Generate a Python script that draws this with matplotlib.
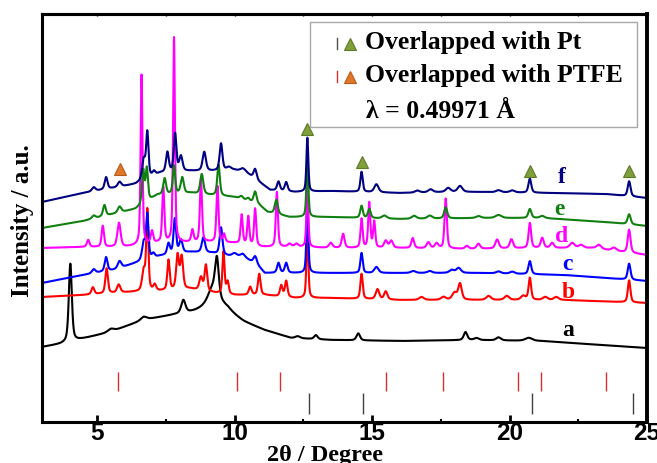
import numpy as np
import matplotlib
matplotlib.use("Agg")
import matplotlib.pyplot as plt
from matplotlib.lines import Line2D
from matplotlib.patches import Rectangle

# ---- data -------------------------------------------------------------
# background anchors (2theta, intensity) for each pattern, offsets included
bg_a = [(3.0, 75), (3.67, 78), (4.29, 82), (5.49, 90), (6.69, 102), (7.79, 107),
        (8.41, 109), (9.03, 110), (9.76, 109), (10.34, 100), (11.07, 92),
        (12.05, 84), (13.51, 82), (16.06, 81), (18.61, 82), (21.17, 81),
        (23.35, 77), (25.0, 74)]
bg_b = [(3.0, 125), (4.5, 127), (5.6, 129), (6.3, 130), (7.3, 131), (8.4, 133),
        (9.3, 129), (10.0, 127), (11.1, 127), (12.2, 124), (13.5, 124),
        (16.0, 122), (19.0, 122), (22.0, 122), (25.0, 119)]
bg_c = [(3.0, 139), (4.5, 147), (5.6, 152), (6.3, 158), (7.3, 166), (8.4, 170),
        (9.2, 169), (9.8, 166), (10.3, 165), (10.8, 158), (11.1, 149),
        (12.2, 149), (13.5, 149), (16.5, 149), (19.0, 149), (22.0, 147), (25.0, 141)]
bg_d = [(3.0, 174), (4.5, 175), (6.0, 175), (7.2, 179), (9.0, 180), (10.0, 179),
        (11.0, 175), (12.2, 175), (13.5, 174), (16.0, 174), (18.5, 173),
        (21.0, 174), (23.0, 174), (25.0, 167)]
bg_e = [(3.0, 194), (4.5, 201), (5.6, 208), (6.4, 213), (7.2, 227), (8.4, 229),
        (9.1, 227), (10.0, 225), (10.9, 217), (11.2, 210), (12.0, 205),
        (13.5, 205), (16.0, 203), (19.0, 204), (21.2, 204), (23.5, 200), (25.0, 196)]
bg_f = [(3.0, 220), (4.5, 229), (5.6, 234), (6.4, 238), (7.3, 249), (8.4, 251),
        (9.2, 251), (10.0, 252), (10.4, 250), (10.95, 239), (11.3, 232),
        (12.2, 230), (13.5, 231), (16.0, 229), (17.8, 230), (19.0, 230),
        (21.5, 229), (23.5, 228), (25.0, 224)]

# reflections (2theta, height, FWHM)
pk_a = [(4.03, 78, 0.13), (5.5, 3, 0.25), (6.7, 3, 0.25), (8.14, 13, 0.18),
        (9.2, 12, 0.35), (9.36, 38, 0.16), (9.3, 12, 0.9), (12.3, 2, 0.2),
        (12.96, 4, 0.15), (14.5, 7, 0.15), (18.4, 8, 0.15), (18.8, 2, 0.2),
        (19.6, 3, 0.2), (20.7, 3, 0.3)]
pk_b = [(4.85, 7, 0.12), (5.35, 25, 0.11), (5.79, 8, 0.14), (6.7, 20, 0.14),
        (6.83, 80, 0.09), (7.1, 6, 0.12), (7.6, 30, 0.1), (7.93, 34, 0.12),
        (8.08, 32, 0.12), (8.78, 13, 0.14), (8.96, 26, 0.11), (9.6, 42, 0.09),
        (9.75, 12, 0.1), (10.57, 8, 0.12), (10.9, 21, 0.11), (11.7, 11, 0.11),
        (11.88, 16, 0.11), (12.65, 70, 0.08), (14.62, 25, 0.1), (15.2, 10, 0.15),
        (15.5, 8, 0.14), (16.8, 3, 0.2), (17.6, 3, 0.2), (18.0, 7, 0.2),
        (18.2, 16, 0.15), (19.24, 4, 0.2), (19.9, 4, 0.2), (20.5, 4, 0.2),
        (20.74, 22, 0.11), (21.3, 3, 0.2), (21.7, 3, 0.2), (24.35, 22, 0.11)]
pk_c = [(4.88, 4, 0.15), (5.33, 14, 0.12), (5.82, 7, 0.15), (6.7, 18, 0.14),
        (6.83, 44, 0.1), (7.05, 4, 0.12), (7.6, 11, 0.12), (7.83, 35, 0.11),
        (8.05, 13, 0.14), (8.87, 15, 0.14), (9.51, 27, 0.12), (10.0, 3, 0.2),
        (10.3, 3, 0.2), (10.75, 7, 0.14), (11.6, 10, 0.12), (11.88, 10, 0.12),
        (12.65, 72, 0.08), (14.62, 20, 0.1), (15.16, 6, 0.18), (16.5, 2, 0.2),
        (17.1, 2, 0.2), (17.9, 3, 0.2), (18.15, 5, 0.2), (19.6, 2, 0.2),
        (20.1, 2, 0.2), (20.74, 13, 0.12), (24.35, 16, 0.12)]
pk_d = [(4.68, 7, 0.11), (5.21, 21, 0.1), (5.8, 24, 0.14), (6.62, 170, 0.08),
        (7.0, 12, 0.1), (7.41, 55, 0.09), (7.8, 205, 0.08), (8.47, 12, 0.1),
        (8.78, 63, 0.09), (9.38, 56, 0.09), (9.62, 8, 0.1), (10.26, 29, 0.09),
        (10.5, 28, 0.09), (10.75, 37, 0.09), (11.54, 55, 0.09), (12.0, 3, 0.15),
        (12.25, 3, 0.15), (12.65, 62, 0.08), (13.5, 5, 0.15), (13.95, 14, 0.12),
        (14.62, 29, 0.09), (14.9, 45, 0.09), (15.08, 26, 0.09), (15.5, 7, 0.14),
        (15.7, 7, 0.14), (16.48, 10, 0.12), (17.05, 6, 0.15), (17.35, 5, 0.15),
        (17.68, 50, 0.1), (18.45, 3, 0.15), (18.87, 5, 0.15), (19.55, 9, 0.15),
        (20.07, 9, 0.14), (20.74, 25, 0.11), (21.19, 10, 0.13), (21.55, 5, 0.15),
        (22.28, 5, 0.2), (22.6, 3, 0.2), (23.25, 4, 0.2), (23.8, 3, 0.2),
        (24.35, 23, 0.12)]
pk_e = [(4.88, 3, 0.15), (5.27, 11, 0.12), (5.82, 6, 0.15), (6.68, 33, 0.1),
        (6.81, 33, 0.1), (7.46, 16, 0.12), (7.8, 28, 0.1), (8.1, 16, 0.13),
        (8.81, 20, 0.13), (9.42, 31, 0.11), (10.25, 3, 0.15), (10.5, 3, 0.15),
        (10.75, 12, 0.13), (11.52, 14, 0.13), (12.65, 62, 0.08), (14.62, 12, 0.11),
        (14.9, 9, 0.12), (15.45, 3, 0.2), (16.53, 3, 0.2), (17.1, 3, 0.2),
        (17.68, 11, 0.13), (18.87, 2, 0.2), (19.6, 3, 0.25), (20.74, 9, 0.13),
        (21.19, 2, 0.2), (24.35, 10, 0.13)]
pk_f = [(4.88, 4, 0.15), (5.33, 12, 0.12), (5.82, 5, 0.15), (6.7, 20, 0.14),
        (6.83, 45, 0.1), (7.07, 4, 0.12), (7.56, 20, 0.12), (7.84, 38, 0.11),
        (8.05, 15, 0.14), (8.9, 19, 0.14), (9.51, 27, 0.12), (9.8, 3, 0.2),
        (10.3, 3, 0.2), (10.75, 10, 0.13), (11.6, 9, 0.12), (11.88, 9, 0.12),
        (12.65, 54, 0.08), (14.62, 20, 0.1), (15.16, 8, 0.18), (16.65, 2, 0.2),
        (17.13, 3, 0.2), (17.77, 4, 0.2), (18.2, 6, 0.2), (19.6, 2, 0.2),
        (20.1, 2, 0.2), (20.74, 14, 0.12), (24.35, 15, 0.12)]

labels = ["a", "b", "c", "d", "e", "f"]
colors = ["#000000", "#ff0000", "#0000ff", "#ff00ff", "#108010", "#000080"]
label_pos = [(22.15, 92), (22.15, 130), (22.1, 158), (21.9, 186), (21.83, 213), (21.9, 245)]

# reference reflection positions
ptfe_pos = [5.78, 10.1, 11.66, 15.5, 17.58, 20.3, 21.14, 23.5]
pt_pos = [12.7, 14.67, 20.8, 24.5]

# peak markers
ptfe_mark = [(5.82, 253)]
pt_mark = [(12.65, 293), (14.62, 260), (20.74, 251), (24.35, 251)]

backgrounds = [bg_a, bg_b, bg_c, bg_d, bg_e, bg_f]
peaks = [pk_a, pk_b, pk_c, pk_d, pk_e, pk_f]


def pattern(x, bg, pk, eta=0.5):
    bx, by = zip(*bg)
    y = np.interp(x, bx, by)
    for c, h, w in pk:
        d = (x - c) / (w / 2.0)
        lor = 1.0 / (1.0 + d ** 2)
        gau = np.exp(-np.log(2) * d ** 2)
        y = y + h * (eta * lor + (1 - eta) * gau)
    return y


SERIF = "Liberation Serif"

# ---- figure -----------------------------------------------------------
W, H = 657, 463
fig = plt.figure(figsize=(W / 100, H / 100), dpi=100)
ax = fig.add_axes([42 / W, 1 - 422 / H, (647 - 42) / W, (422 - 14) / H])

x = np.linspace(3, 25, 6000)
for bg, pk, col in zip(backgrounds, peaks, colors):
    ax.plot(x, pattern(x, bg, pk), color=col, lw=1.5, solid_joinstyle="round")

for (lx, ly), lab, col in zip(label_pos, labels, colors):
    ax.text(lx, ly, lab, color=col, fontsize=17, fontweight="bold",
            family=SERIF, ha="center", va="center")

ax.vlines(ptfe_pos, 31, 50, color="#d83030", lw=1.0)
ax.vlines(pt_pos, 8, 29, color="#404040", lw=1.0)

for px, py in pt_mark:
    ax.plot(px, py, marker="^", ms=9, color="#7f9f3a", mec="#5d7a25", mew=0.8)
for px, py in ptfe_mark:
    ax.plot(px, py, marker="^", ms=9, color="#e0782a", mec="#b85a15", mew=0.8)

ax.set_xlim(3, 25)
ax.set_ylim(0, 408)
ax.set_yticks([])
ax.set_xticks([5, 10, 15, 20, 25])
ax.set_xticks([7.5, 12.5, 17.5, 22.5], minor=True)
ax.tick_params(axis="x", which="major", direction="in", length=5, width=2,
               labelsize=17.5, pad=0)
ax.tick_params(axis="x", which="minor", direction="in", length=2.5, width=1.5)
for lab in ax.get_xticklabels():
    lab.set_fontfamily("Liberation Sans")
    lab.set_fontweight("bold")

top = ax.secondary_xaxis("top")
top.set_xticks([5, 7.5, 10, 12.5, 15, 17.5, 20, 22.5, 25])
top.tick_params(direction="in", length=1.5, width=1.0, labeltop=False)
top.spines["top"].set_linewidth(2.2)

for side in ["left", "bottom", "top"]:
    ax.spines[side].set_linewidth(2.2)
ax.spines["right"].set_linewidth(2.8)

fig.text(325 / W, 1 - 456 / H, "2θ / Degree", fontsize=17.5, fontweight="bold",
         family=SERIF, ha="center", va="center")
fig.text(23 / W, 1 - 221 / H, "Intensity / a.u.", fontsize=18, fontweight="bold",
         family=SERIF, ha="center", va="center", rotation=90)


# key box
def fx(p):
    return p / W


def fy(p):
    return 1 - p / H


fig.add_artist(Rectangle((fx(310), fy(127)), fx(637) - fx(310), fy(22) - fy(127),
                         transform=fig.transFigure, fill=True, fc="white",
                         ec="#a8a8a8", lw=1.0))
rows = [48.6, 82.0]
row_text = ["Overlapped with Pt", "Overlapped with PTFE"]
bar_cols = ["#505050", "#d83030"]
tri_cols = [("#7f9f3a", "#5d7a25"), ("#e0782a", "#b85a15")]
for r, t, bc, (tf, te) in zip(rows, row_text, bar_cols, tri_cols):
    fig.add_artist(Line2D([fx(337), fx(337)], [fy(r), fy(r - 11)],
                          transform=fig.transFigure, color=bc, lw=1.0))
    fig.add_artist(Line2D([fx(350)], [fy(r - 5)], transform=fig.transFigure,
                          marker="^", ms=8, color=tf, mec=te, mew=0.8))
    fig.text(fx(365), fy(r), t, fontsize=18.5, fontweight="bold",
             family=SERIF, ha="left", va="baseline")
fig.text(fx(366), fy(117.5), "λ = 0.49971 Å", fontsize=18.5, fontweight="bold",
         family=SERIF, ha="left", va="baseline")

fig.savefig("out.png", dpi=100)
